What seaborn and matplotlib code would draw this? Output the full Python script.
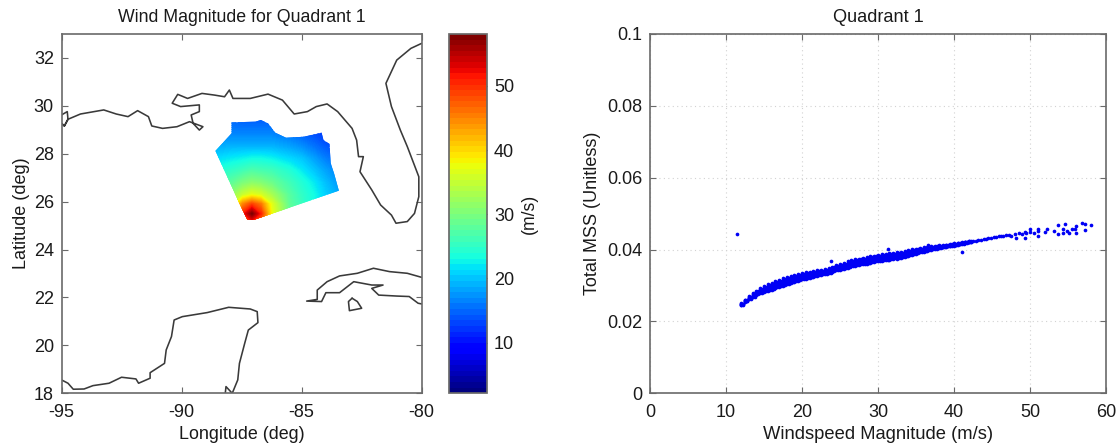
import numpy as np
import matplotlib
matplotlib.use("Agg")
import matplotlib.pyplot as plt
from matplotlib.patches import Polygon
from matplotlib.colors import Normalize
from matplotlib.cm import ScalarMappable
import seaborn as sns

# ---------- map data ----------
gulf_lon = [-95.00,-94.76,-94.73,-94.88,-95.00,-94.88,-94.73,-94.21,-93.24,-92.72,-92.23,-91.83,-91.38,-91.24,-90.79,-90.19,-89.67,-89.11,-89.26,-89.52,-89.60,-89.26,-89.26,-90.04,-90.39,-90.16,-89.75,-89.15,-88.63,-88.21,-88.01,-87.86,-87.14,-86.40,-85.80,-85.31,-84.76,-84.39,-83.94,-83.50,-82.90,-82.71,-82.63,-82.43,-82.57,-82.08,-81.71,-81.26,-81.07,-80.60,-80.30,-80.12,-80.12,-80.60,-80.89,-81.26,-81.49,-81.04,-80.45,-80.00]
gulf_lat = [29.62,29.76,29.44,29.16,29.27,29.16,29.44,29.66,29.83,29.66,29.55,29.80,29.55,29.16,29.06,29.13,29.34,29.13,28.99,29.27,29.62,29.76,30.04,29.97,30.11,30.48,30.31,30.52,30.45,30.38,30.66,30.31,30.31,30.49,30.24,29.66,29.76,29.97,30.08,29.76,29.06,28.57,27.88,27.88,27.25,26.49,25.86,25.44,25.10,25.17,25.51,26.21,27.04,28.30,28.99,29.97,30.94,31.91,32.40,32.61]
cuba_lon = [-80.00,-80.60,-81.34,-82.01,-82.68,-83.42,-83.94,-84.35,-84.35,-84.79,-84.17,-83.99,-83.42,-82.83,-82.08,-81.61,-82.08,-81.79,-81.04,-80.52,-80.15,-80.00]
cuba_lat = [22.84,23.01,23.08,23.22,23.01,22.90,22.66,22.31,21.92,21.85,21.83,22.20,22.20,22.66,22.52,22.52,22.38,22.10,22.06,22.04,21.76,21.73]
isle_lon = [-82.90,-83.05,-83.01,-82.50,-82.68,-82.90]
isle_lat = [21.97,21.83,21.45,21.55,21.83,21.97]
yuc_lon = [-95.00,-94.73,-94.51,-94.06,-93.69,-93.02,-92.50,-91.90,-91.79,-91.31,-91.31,-90.71,-90.64,-90.42,-90.31,-89.97,-88.93,-88.04,-87.14,-86.85,-86.82,-87.22,-87.37,-87.59,-87.66,-87.89,-88.15,-88.18]
yuc_lat = [18.56,18.42,18.17,18.18,18.32,18.42,18.67,18.60,18.42,18.63,18.86,19.25,19.81,20.37,21.06,21.20,21.37,21.59,21.52,21.41,20.95,20.64,20.09,19.25,18.56,18.00,18.28,18.00]

field_lon = [-88.7,-87.9,-87.45,-87.07,-86.7,-86.25,-85.5,-85.0,-84.5,-84.0,-83.2]
field_lat = [25.1,25.5,25.9,26.3,26.8,27.3,27.8,28.3,28.8,29.5]
wind_r0 = [29.0,36.0,45.0,50.0,45.0,36.0,28.0,25.0,23.0,21.0,18.0]
wind_r1 = [30.0,37.0,51.0,58.0,51.0,38.0,28.5,25.5,23.5,21.0,18.0]
wind_r2 = [29.5,35.0,45.0,49.0,46.0,37.0,28.0,25.5,23.0,21.0,18.0]
wind_r3 = [28.0,31.5,35.0,37.0,36.0,33.0,27.5,25.0,23.0,20.5,17.5]
wind_r4 = [26.0,28.0,30.0,31.0,30.5,29.0,26.0,24.0,22.0,19.5,16.5]
wind_r5 = [23.5,25.0,26.0,27.0,26.5,26.0,24.0,22.0,20.0,18.0,15.5]
wind_r6 = [21.0,22.0,22.5,23.0,23.0,22.5,21.0,20.0,18.0,16.0,14.0]
wind_r7 = [18.5,19.0,19.0,19.0,19.0,19.0,18.0,17.0,15.5,14.0,12.5]
wind_r8 = [16.5,16.5,16.5,16.5,16.5,16.5,15.5,14.5,13.5,12.5,11.5]
wind_r9 = [14.5,14.5,14.0,14.0,14.0,14.0,13.0,12.5,12.0,11.5,11.0]
swath_lon = [-88.59,-87.92,-87.92,-86.92,-86.70,-86.40,-86.10,-85.65,-84.91,-84.17,-84.09,-83.84,-83.79,-83.65,-83.45,-86.99,-87.26,-87.59]
swath_lat = [28.12,28.85,29.31,29.34,29.41,29.27,28.88,28.67,28.71,28.88,28.57,28.41,27.60,27.18,26.46,25.24,25.24,25.93]
wind_min, wind_max = 2.1, 58.1
map_xticks = [-95, -90, -85, -80]
map_xlabels = ["-95", "-90", "-85", "-80"]

# ---------- scatter data ----------
band_x = [12,12.5,13,13.5,14,14.5,15,15.5,16,16.5,17,17.5,18,18.5,19,19.5,20,20.5,21,21.5,22,22.5,23,23.5,24,24.5,25,25.5,26,26.5,27,27.5,28,28.5,29,29.5,30,30.5,31,31.5,32,32.5,33,33.5,34,34.5,35,35.5,36,36.5,37,37.5,38,38.5,39,39.5,40,40.5,41,41.5,42]
band_mid = [.0248,.0258,.0266,.0273,.0280,.0285,.0290,.0294,.0298,.0302,.0306,.0310,.0313,.0316,.0320,.0323,.0326,.0328,.0330,.0332,.0334,.0336,.0338,.0341,.0345,.0349,.0352,.0355,.0359,.0362,.0364,.0366,.0368,.0370,.0372,.0374,.0376,.0378,.0379,.0381,.0382,.0384,.0385,.0387,.0390,.0393,.0396,.0398,.0400,.0402,.0404,.0406,.0408,.0409,.0411,.0412,.0414,.0416,.0418,.0420,.0422]
band_spread = [.0002,.0003,.0004,.0005,.0006,.0007,.0008,.0009,.0010,.0010,.0010,.0010,.0010,.0010,.0010,.0010,.0009,.0009,.0008,.0008,.0008,.0007,.0007,.0007,.0007,.0007,.0008,.0008,.0009,.0009,.0009,.0009,.0009,.0009,.0009,.0009,.0009,.0009,.0009,.0009,.0009,.0009,.0009,.0008,.0008,.0008,.0007,.0006,.0006,.0005,.0005,.0004,.0004,.0003,.0003,.0003,.0003,.0002,.0002,.0002,.0002]
tail_x = [42.5,42.9,43.2,43.5,43.9,44.2,44.5,44.9,45.2,45.5,45.9,46.2,46.5,46.9,47.2,47.5,48,48.5,49,49.5,50,50.5,51,48.2,49.3,49.3,50,51.1,51.1,52.2,52,53.1,53.7,53.7,54.4,54.6,54.4,55.1,56,56,56.8,57.3,57.3,58,55.5,54.9,55.9]
tail_y = [.0424,.0425,.0426,.0428,.0429,.0430,.0431,.0433,.0435,.0436,.0437,.0438,.0438,.0440,.0441,.0439,.0443,.0445,.0442,.0445,.0449,.0447,.0452,.0432,.0431,.0449,.0456,.0437,.0458,.0458,.0449,.0452,.0442,.0468,.0458,.0472,.0447,.0447,.0447,.0465,.0474,.0470,.0454,.0468,.0456,.0452,.0458]
outlier_x = [11.5,23.8,31.3,41.1,36.6]
outlier_y = [.0443,.0367,.0403,.0392,.0412]

# ---------- styling ----------
sns.set_theme(style="white")
plt.rcParams["font.family"] = ["Liberation Sans", "DejaVu Sans"]
W, H = 1120, 446
EDGE = "#6a6a6a"
TXT = "#1a1a1a"
fig = plt.figure(figsize=(W / 100, H / 100), dpi=100, facecolor="white")

def box(x0, y0, x1, y1):
    return [x0 / W, 1 - y1 / H, (x1 - x0) / W, (y1 - y0) / H]

ax = fig.add_axes(box(61.5, 34, 421.7, 393.3))
cax = fig.add_axes(box(449.3, 34, 487, 393.3))
ax2 = fig.add_axes(box(650, 34, 1106, 393.3))

# ---------- left map ----------
wind = np.array([wind_r0, wind_r1, wind_r2, wind_r3, wind_r4, wind_r5, wind_r6, wind_r7, wind_r8, wind_r9])
norm = Normalize(wind_min, wind_max)
cs = ax.contourf(field_lon, field_lat, wind, levels=np.linspace(wind_min, wind_max, 257), cmap="jet", norm=norm)
patch = Polygon(np.column_stack([swath_lon, swath_lat]), closed=True, transform=ax.transData, fc="none", ec="none")
ax.add_patch(patch)
cs.set_clip_path(patch)

for lo, la in [(gulf_lon, gulf_lat), (cuba_lon, cuba_lat), (isle_lon, isle_lat), (yuc_lon, yuc_lat)]:
    ax.plot(lo, la, color="#3a3a3a", lw=1.15, solid_joinstyle="round")
ax.set_xlim(-95, -80)
ax.set_ylim(18, 33)
ax.set_xticks(map_xticks)
ax.set_xticklabels(map_xlabels)
ax.set_yticks(range(18, 34, 2))
ax.set_title("Wind Magnitude for Quadrant 1", fontsize=12.8, color=TXT, pad=9)
ax.set_xlabel("Longitude (deg)", fontsize=12.9, color=TXT, labelpad=3)
ax.set_ylabel("Latitude (deg)", fontsize=13, color=TXT, labelpad=3)

# ---------- colorbar ----------
cb = fig.colorbar(ScalarMappable(norm=norm, cmap=plt.get_cmap("jet", 64)), cax=cax)
cb.set_ticks([10, 20, 30, 40, 50])
cb.set_label("(m/s)", fontsize=12.7, color=TXT, labelpad=5)
cax.tick_params(axis="y", direction="in", left=True, right=True, length=4, width=0.8,
                color="#333333", labelsize=13, labelcolor=TXT, pad=5)
cb.outline.set_edgecolor(EDGE)

# ---------- right scatter ----------
bx = np.array(band_x); bm = np.array(band_mid); bs = np.array(band_spread)
xs = np.concatenate([bx, bx, bx, bx, bx, bx + .25, bx + .25, bx + .25, tail_x, outlier_x])
ys = np.concatenate([bm, bm - bs, bm + bs, bm - bs / 2, bm + bs / 2, bm, bm - .75 * bs, bm + .75 * bs, tail_y, outlier_y])
sns.scatterplot(x=xs, y=ys, ax=ax2, color="#0000f5", s=7, linewidth=0, legend=False, zorder=3)
ax2.set_xlim(0, 60)
ax2.set_ylim(0, 0.1)
ax2.set_xticks(range(0, 61, 10))
ax2.set_yticks([0, 0.02, 0.04, 0.06, 0.08, 0.1])
ax2.set_yticklabels(["0", "0.02", "0.04", "0.06", "0.08", "0.1"])
ax2.grid(True, linestyle=(0, (1, 3)), color="#d2d2d2", linewidth=0.8)
ax2.set_axisbelow(True)
ax2.set_title("Quadrant 1", fontsize=13.1, color=TXT, pad=9)
ax2.set_xlabel("Windspeed Magnitude (m/s)", fontsize=13.2, color=TXT, labelpad=3)
ax2.set_ylabel("Total MSS (Unitless)", fontsize=13, color=TXT, labelpad=4.5)

for a in (ax, ax2):
    a.tick_params(direction="in", top=True, right=True, bottom=True, left=True, length=4, width=0.8,
                  color=EDGE, labelsize=13, labelcolor=TXT)
    a.tick_params(axis="x", pad=8)
    a.tick_params(axis="y", pad=5.5)
    for s in a.spines.values():
        s.set_color(EDGE)
        s.set_linewidth(1.2)

fig.savefig("out.png", dpi=100)
